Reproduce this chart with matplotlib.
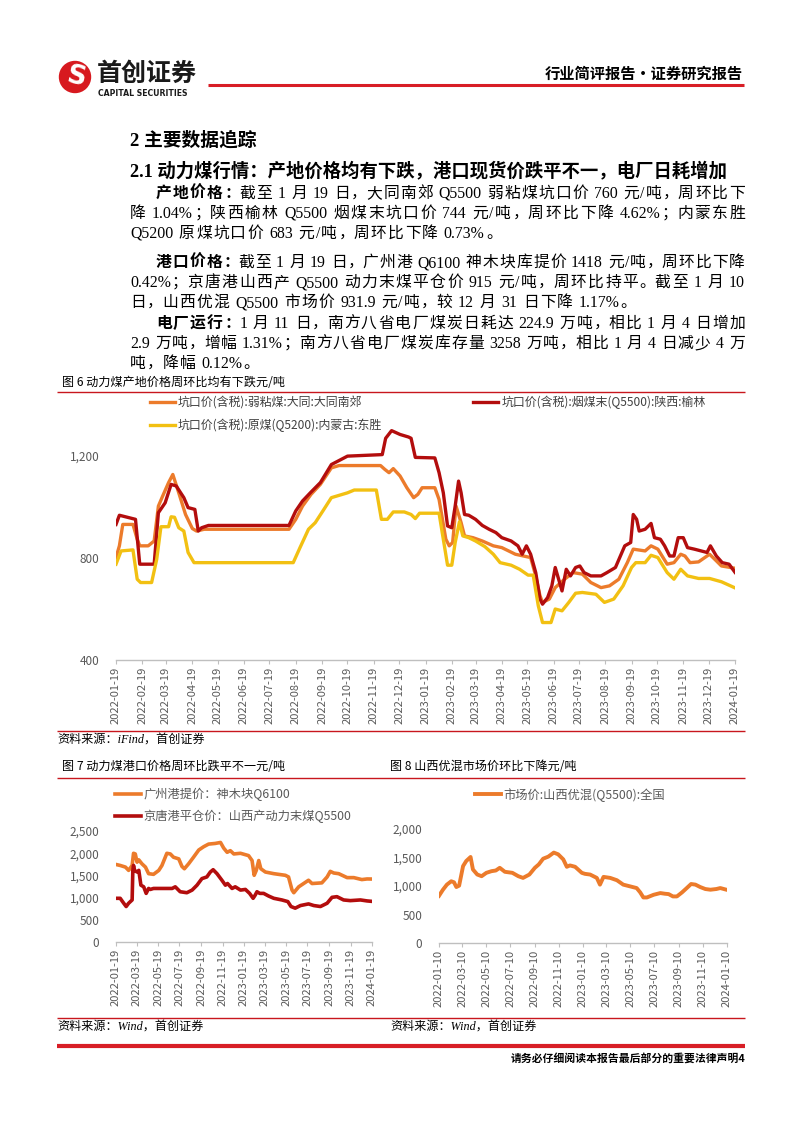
import re
import matplotlib
matplotlib.use('Agg')
import matplotlib.pyplot as plt
import matplotlib.dates as mdates
import numpy as np
import pandas as pd
from matplotlib.patches import Circle
from matplotlib.ticker import FuncFormatter

plt.rcParams['font.family'] = ['Noto Sans CJK SC', 'DejaVu Sans']
plt.rcParams['axes.unicode_minus'] = False

# ---------------- 图6 坑口价 ----------------
lab_datong = '坑口价(含税):弱粘煤:大同:大同南郊'
lab_yulin = '坑口价(含税):烟煤末(Q5500):陕西:榆林'
lab_dongsheng = '坑口价(含税):原煤(Q5200):内蒙古:东胜'

d_datong = ['2022-01-19', '2022-01-23', '2022-01-27', '2022-02-08', '2022-02-13', '2022-02-16', '2022-02-26',
            '2022-03-05', '2022-03-10', '2022-03-15', '2022-03-22', '2022-03-27', '2022-04-03', '2022-04-11',
            '2022-04-19', '2022-04-24', '2022-05-03', '2022-08-11', '2022-08-19', '2022-08-27', '2022-09-06',
            '2022-09-17', '2022-09-30', '2022-10-09', '2022-11-27', '2022-12-02', '2022-12-07', '2022-12-12',
            '2022-12-20', '2022-12-28', '2023-01-05', '2023-01-10', '2023-01-15', '2023-01-30', '2023-02-04',
            '2023-02-12', '2023-02-16', '2023-02-20', '2023-02-24', '2023-03-02', '2023-03-06', '2023-03-16',
            '2023-03-27', '2023-04-09', '2023-04-19', '2023-05-05', '2023-05-23', '2023-05-29', '2023-06-03',
            '2023-06-06', '2023-06-14', '2023-06-21', '2023-07-02', '2023-07-12', '2023-07-23', '2023-08-02',
            '2023-08-14', '2023-08-24', '2023-09-04', '2023-09-14', '2023-09-21', '2023-10-05', '2023-10-12',
            '2023-10-20', '2023-10-31', '2023-11-08', '2023-11-16', '2023-11-21', '2023-11-27', '2023-12-07',
            '2023-12-20', '2023-12-28', '2024-01-03', '2024-01-19']
v_datong = [802, 848, 932, 932, 874, 848, 848, 867, 1004, 1043, 1096, 1128, 1056, 971, 916, 906, 913, 913,
            952, 1004, 1050, 1089, 1154, 1163, 1163, 1148, 1135, 1151, 1122, 1076, 1037, 1050, 1076, 1076,
            1030, 874, 848, 861, 1004, 939, 887, 880, 867, 848, 841, 815, 802, 730, 652, 626, 639, 684, 717,
            743, 737, 704, 684, 691, 717, 782, 835, 828, 848, 835, 776, 782, 815, 808, 782, 785, 815, 789,
            769, 760]

d_yulin = ['2022-01-19', '2022-01-23', '2022-02-11', '2022-02-16', '2022-03-05', '2022-03-10', '2022-03-18',
           '2022-03-25', '2022-03-31', '2022-04-09', '2022-04-14', '2022-04-22', '2022-04-26', '2022-04-30',
           '2022-05-08', '2022-08-11', '2022-08-19', '2022-08-27', '2022-09-06', '2022-09-17', '2022-09-30',
           '2022-10-19', '2022-11-29', '2022-12-03', '2022-12-10', '2022-12-20', '2022-12-30', '2023-01-02',
           '2023-01-07', '2023-01-30', '2023-02-04', '2023-02-09', '2023-02-14', '2023-02-19', '2023-02-23',
           '2023-02-27', '2023-03-02', '2023-03-06', '2023-03-11', '2023-03-19', '2023-03-27', '2023-04-04',
           '2023-04-12', '2023-04-19', '2023-04-30', '2023-05-08', '2023-05-13', '2023-05-18', '2023-05-23',
           '2023-05-29', '2023-06-03', '2023-06-06', '2023-06-12', '2023-06-17', '2023-06-21', '2023-06-25',
           '2023-06-29', '2023-07-04', '2023-07-09', '2023-07-15', '2023-07-20', '2023-07-25', '2023-08-02',
           '2023-08-14', '2023-08-21', '2023-08-31', '2023-09-11', '2023-09-18', '2023-09-21', '2023-09-25',
           '2023-09-28', '2023-10-05', '2023-10-12', '2023-10-16', '2023-10-23', '2023-10-28', '2023-11-03',
           '2023-11-08', '2023-11-13', '2023-11-19', '2023-11-24', '2023-12-02', '2023-12-17', '2023-12-21',
           '2023-12-28', '2024-01-04', '2024-01-12', '2024-01-19']
v_yulin = [932, 968, 952, 776, 776, 978, 1017, 1089, 1083, 1037, 998, 991, 906, 919, 928, 928, 985, 1024,
           1059, 1096, 1167, 1200, 1206, 1270, 1300, 1285, 1275, 1270, 1195, 1193, 1135, 1056, 926, 919, 1004,
           1102, 1056, 971, 968, 952, 928, 913, 900, 880, 867, 848, 815, 848, 815, 743, 639, 619, 645, 691,
           763, 717, 671, 756, 730, 763, 769, 743, 730, 730, 743, 763, 848, 861, 971, 952, 906, 913, 936, 880,
           874, 848, 808, 808, 880, 880, 841, 835, 822, 848, 808, 782, 776, 744]

d_dongsheng = ['2022-01-19', '2022-01-25', '2022-02-08', '2022-02-13', '2022-02-17', '2022-03-02', '2022-03-08',
               '2022-03-13', '2022-03-22', '2022-03-25', '2022-03-29', '2022-04-03', '2022-04-09', '2022-04-14',
               '2022-04-21', '2022-08-16', '2022-08-24', '2022-09-03', '2022-09-11', '2022-09-20', '2022-09-30',
               '2022-10-09', '2022-10-19', '2022-10-27', '2022-11-22', '2022-11-28', '2022-12-05', '2022-12-12',
               '2022-12-25', '2023-01-02', '2023-01-07', '2023-01-12', '2023-02-04', '2023-02-09', '2023-02-14',
               '2023-02-19', '2023-02-23', '2023-02-28', '2023-03-04', '2023-03-11', '2023-03-19', '2023-03-30',
               '2023-04-09', '2023-04-17', '2023-04-30', '2023-05-10', '2023-05-20', '2023-05-26', '2023-06-01',
               '2023-06-06', '2023-06-16', '2023-06-21', '2023-06-29', '2023-07-07', '2023-07-15', '2023-07-23',
               '2023-08-08', '2023-08-18', '2023-08-29', '2023-09-09', '2023-09-19', '2023-09-24', '2023-10-05',
               '2023-10-12', '2023-10-20', '2023-10-31', '2023-11-08', '2023-11-16', '2023-11-24', '2023-12-07',
               '2023-12-20', '2024-01-03', '2024-01-19']
v_dongsheng = [776, 828, 832, 717, 704, 704, 795, 923, 923, 962, 960, 919, 906, 822, 782, 782, 841, 913, 939,
               985, 1037, 1046, 1056, 1067, 1067, 952, 952, 981, 981, 971, 955, 976, 976, 874, 772, 772, 861,
               942, 887, 880, 867, 845, 815, 782, 772, 756, 733, 733, 613, 547, 547, 600, 593, 626, 662, 665,
               658, 626, 639, 691, 763, 782, 782, 811, 802, 743, 717, 756, 730, 720, 720, 707, 683]

# ---------------- 图7 港口价 ----------------
lab_gz = '广州港提价：神木块Q6100'
lab_jt = '京唐港平仓价：山西产动力末煤Q5500'
d_gz = ['2022-01-19', '2022-01-31', '2022-02-15', '2022-02-24', '2022-03-06', '2022-03-10', '2022-03-15',
        '2022-03-20', '2022-03-25', '2022-04-03', '2022-04-13', '2022-04-22', '2022-05-06', '2022-05-21',
        '2022-05-30', '2022-06-13', '2022-06-23', '2022-07-02', '2022-07-17', '2022-07-26', '2022-08-02',
        '2022-08-14', '2022-08-28', '2022-09-12', '2022-09-26', '2022-10-10', '2022-10-29', '2022-11-13',
        '2022-11-22', '2022-12-02', '2022-12-11', '2022-12-21', '2023-01-09', '2023-02-01', '2023-02-11',
        '2023-02-17', '2023-02-23', '2023-03-02', '2023-03-08', '2023-03-21', '2023-04-14', '2023-05-17',
        '2023-05-26', '2023-06-05', '2023-06-10', '2023-06-24', '2023-07-08', '2023-07-22', '2023-08-01',
        '2023-08-29', '2023-09-13', '2023-09-22', '2023-10-02', '2023-10-16', '2023-11-09', '2023-11-28',
        '2023-12-21', '2024-01-05', '2024-01-19']
v_gz = [1746, 1724, 1687, 1613, 1724, 1998, 1983, 1798, 1850, 1761, 1687, 1539, 1524, 1613, 1724, 1998, 1983,
        1909, 1872, 1702, 1650, 1761, 1909, 2072, 2146, 2205, 2220, 2242, 2116, 2020, 2057, 1983, 1998, 1946,
        1835, 1502, 1613, 1835, 1650, 1576, 1539, 1502, 1465, 1169, 1110, 1243, 1317, 1391, 1317, 1332, 1465,
        1591, 1554, 1539, 1450, 1450, 1406, 1420, 1418]
d_jt = ['2022-01-19', '2022-01-31', '2022-02-10', '2022-02-17', '2022-02-24', '2022-03-06', '2022-03-08',
        '2022-03-10', '2022-03-13', '2022-03-20', '2022-03-25', '2022-03-31', '2022-04-08', '2022-04-15',
        '2022-04-22', '2022-04-27', '2022-05-06', '2022-06-28', '2022-07-07', '2022-07-21', '2022-08-09',
        '2022-08-24', '2022-09-07', '2022-09-21', '2022-10-05', '2022-10-15', '2022-10-23', '2022-11-03',
        '2022-11-17', '2022-11-27', '2022-12-03', '2022-12-16', '2022-12-25', '2023-01-09', '2023-01-23',
        '2023-02-04', '2023-02-14', '2023-02-20', '2023-02-25', '2023-03-05', '2023-03-16', '2023-03-30',
        '2023-04-14', '2023-05-07', '2023-05-24', '2023-06-02', '2023-06-14', '2023-06-29', '2023-07-22',
        '2023-08-06', '2023-08-25', '2023-09-13', '2023-09-27', '2023-10-11', '2023-10-30', '2023-11-18',
        '2023-12-17', '2024-01-05', '2024-01-19']
v_jt = [984, 984, 873, 799, 873, 947, 1613, 1725, 1613, 1576, 1613, 1280, 1243, 1095, 1206, 1184, 1206, 1206,
        1243, 1132, 1110, 1169, 1280, 1428, 1465, 1576, 1628, 1539, 1391, 1280, 1317, 1206, 1243, 1169, 1184,
        1095, 984, 1058, 1132, 1095, 1095, 1036, 984, 947, 910, 799, 762, 821, 858, 821, 799, 873, 1006, 1021,
        947, 932, 947, 925, 915]

# ---------------- 图8 山西优混 ----------------
lab_sx = '市场价:山西优混(Q5500):全国'
d_sx = ['2022-01-10', '2022-01-20', '2022-01-30', '2022-02-10', '2022-02-17', '2022-02-23', '2022-03-02',
        '2022-03-12', '2022-03-20', '2022-03-31', '2022-04-06', '2022-04-17', '2022-04-28', '2022-05-10',
        '2022-05-23', '2022-06-03', '2022-06-13', '2022-06-26', '2022-07-15', '2022-07-30', '2022-08-11',
        '2022-08-27', '2022-09-10', '2022-09-20', '2022-10-01', '2022-10-14', '2022-10-28', '2022-11-08',
        '2022-11-21', '2022-11-30', '2022-12-08', '2022-12-21', '2023-01-07', '2023-01-15', '2023-01-28',
        '2023-02-14', '2023-02-22', '2023-03-03', '2023-03-20', '2023-04-06', '2023-04-22', '2023-05-09',
        '2023-05-26', '2023-06-04', '2023-06-12', '2023-06-21', '2023-07-08', '2023-07-25', '2023-08-06',
        '2023-08-15', '2023-08-26', '2023-09-05', '2023-09-18', '2023-09-30', '2023-10-11', '2023-10-22',
        '2023-11-03', '2023-11-16', '2023-11-29', '2023-12-14', '2023-12-24', '2024-01-10']
v_sx = [828, 935, 1024, 1083, 1065, 982, 1006, 1349, 1438, 1509, 1290, 1201, 1172, 1231, 1260, 1272, 1319,
        1249, 1231, 1172, 1142, 1201, 1319, 1379, 1479, 1515, 1586, 1556, 1467, 1337, 1361, 1337, 1231, 1213,
        1201, 1142, 1024, 1160, 1142, 1101, 1024, 994, 964, 888, 799, 799, 846, 876, 864, 858, 817, 817, 888,
        964, 1035, 1024, 982, 947, 935, 947, 964, 932]

# ---------------- 正文 ----------------
heading1 = '2 主要数据追踪'
heading2 = '2.1 动力煤行情：产地价格均有下跌，港口现货价跌平不一，电厂日耗增加'
paragraphs = [
    ('产地价格：', ['截至 1 月 19 日，大同南郊 Q5500 弱粘煤坑口价 760 元/吨，周环比下',
                   '降 1.04%；陕西榆林 Q5500 烟煤末坑口价 744 元/吨，周环比下降 4.62%；内蒙东胜',
                   'Q5200 原煤坑口价 683 元/吨，周环比下降 0.73%。']),
    ('港口价格：', ['截至 1 月 19 日，广州港 Q6100 神木块库提价 1418 元/吨，周环比下降',
                   '0.42%；京唐港山西产 Q5500 动力末煤平仓价 915 元/吨，周环比持平。截至 1 月 10',
                   '日，山西优混 Q5500 市场价 931.9 元/吨，较 12 月 31 日下降 1.17%。']),
    ('电厂运行：', ['1 月 11 日，南方八省电厂煤炭日耗达 224.9 万吨，相比 1 月 4 日增加',
                   '2.9 万吨，增幅 1.31%；南方八省电厂煤炭库存量 3258 万吨，相比 1 月 4 日减少 4 万',
                   '吨，降幅 0.12%。']),
]
para_y = [193, 262, 323]

ORANGE = '#EC7B2B'
DARKRED = '#B30D0D'
YELLOW = '#F2C012'
RED = '#C8161D'
GRAY = '#595959'

W, H = 802, 1133
fig = plt.figure(figsize=(W / 100, H / 100), dpi=100)
page = fig.add_axes([0, 0, 1, 1])
page.set_xlim(0, W)
page.set_ylim(H, 0)
page.axis('off')
renderer = fig.canvas.get_renderer()

BODY = ['Liberation Serif', 'Noto Sans CJK SC']
BODY_SIZE = 11.4
EM = BODY_SIZE * 100 / 72
PUNCT = '，：；。、'


def body_line(y, parts, x0, x1=None):
    units = []
    for s, w in parts:
        for tok in re.findall(r'[A-Za-z0-9.%]+| |.', s):
            units.append((tok, w))
    items = []
    for tok, w in units:
        if tok == ' ':
            items.append((None, EM * 0.2))
            continue
        t = page.text(0, y, tok, fontsize=BODY_SIZE, family=BODY, fontweight=w,
                      ha='left', va='baseline', color='black')
        wd = t.get_window_extent(renderer).width
        if tok in PUNCT:
            wd = EM * 0.88
        items.append((t, wd))
    total = sum(wd for _, wd in items)
    if x1 is None:
        gap = EM * 0.08
    else:
        gap = (x1 - x0 - total) / (len(items) - 1)
    x = x0
    for t, wd in items:
        if t is not None:
            t.set_x(x)
        x += wd + gap


def hline(y, x0, x1, lw, color=RED):
    page.plot([x0, x1], [y, y], color=color, lw=lw, solid_capstyle='butt')


# ---- 页眉 ----
page.add_patch(Circle((75, 77), 15.5, color='#D7191F'))
page.text(75.5, 77.5, 'S', fontsize=19, fontweight='bold', family='DejaVu Sans', color='white',
          ha='center', va='center', rotation=-12)
page.text(97, 74, '首创证券', fontsize=18, fontweight='bold', color='#1a1a1a', ha='left', va='center')
page.text(98, 93, 'CAPITAL SECURITIES', fontsize=5.6, fontweight='bold', family='DejaVu Sans',
          color='#1a1a1a', ha='left', va='center')
hline(85, 208, 744, 2.2, '#D81E26')
page.text(743, 74, '行业简评报告·证券研究报告', fontsize=11, fontweight='bold', color='black',
          ha='right', va='center')

# ---- 标题与正文 ----
page.text(130, 140, heading1, fontsize=13.5, fontweight='bold', family=BODY, ha='left', va='center')
page.text(130, 171, heading2, fontsize=13.2, fontweight='bold', family=BODY, ha='left', va='center')
for (lead, lines), y0 in zip(paragraphs, para_y):
    for i, ln in enumerate(lines):
        yb = y0 + i * 20 + 5
        if i == 0:
            body_line(yb, [(lead, 'bold'), (ln, 'normal')], 156, 745)
        elif i < len(lines) - 1:
            body_line(yb, [(ln, 'normal')], 130, 745)
        else:
            body_line(yb, [(ln, 'normal')], 130)

# ---- 图框 ----
page.text(62, 383, '图 6 动力煤产地价格周环比均有下跌元/吨', fontsize=8.7, color='black', ha='left', va='center')
hline(392, 57, 745, 1.0)
hline(731, 57, 745, 1.0)
SRC = ['Liberation Serif', 'Noto Sans CJK SC']
page.text(57, 740, '资料来源：iFind，首创证券', fontsize=8.7, family=SRC, style='italic', ha='left', va='center')
page.text(62, 766, '图 7 动力煤港口价格周环比跌平不一元/吨', fontsize=8.7, color='black', ha='left', va='center')
page.text(390, 766, '图 8 山西优混市场价环比下降元/吨', fontsize=8.7, color='black', ha='left', va='center')
hline(778, 57, 745, 1.0)
hline(1018, 57, 745, 1.0)
page.text(57, 1027, '资料来源：Wind，首创证券', fontsize=8.7, family=SRC, style='italic', ha='left', va='center')
page.text(390, 1027, '资料来源：Wind，首创证券', fontsize=8.7, family=SRC, style='italic', ha='left', va='center')
hline(1046, 57, 745, 3.0, '#D81E26')
page.text(745, 1058, '请务必仔细阅读本报告最后部分的重要法律声明4', fontsize=7.8, fontweight='bold',
          ha='right', va='center')


def style(ax, ticks, fmt):
    for s in ['top', 'right', 'left']:
        ax.spines[s].set_visible(False)
    ax.spines['bottom'].set_color('#BFBFBF')
    ax.spines['bottom'].set_linewidth(1.0)
    ax.set_facecolor('none')
    ax.set_xticks(ticks)
    ax.xaxis.set_major_formatter(mdates.DateFormatter(fmt))
    ax.tick_params(axis='x', length=3, width=0.8, color='#BFBFBF', labelsize=8, labelcolor=GRAY,
                   labelrotation=90, pad=2)
    ax.tick_params(axis='y', length=0, labelsize=8.5, labelcolor=GRAY, pad=12)
    ax.yaxis.set_major_formatter(FuncFormatter(lambda v, p: f'{v:,.0f}'))


# ---- 图6 ----
ax1 = fig.add_axes([116 / W, 1 - 660 / H, 619 / W, 237 / H])
l1, = ax1.plot(pd.to_datetime(d_datong), v_datong, color=ORANGE, lw=2.4)
l2, = ax1.plot(pd.to_datetime(d_yulin), v_yulin, color=DARKRED, lw=2.4)
l3, = ax1.plot(pd.to_datetime(d_dongsheng), v_dongsheng, color=YELLOW, lw=2.4)
ax1.set_xlim(pd.Timestamp('2022-01-19'), pd.Timestamp('2024-01-19'))
ax1.set_ylim(400, 1330)
ax1.set_yticks([400, 800, 1200])
style(ax1, pd.date_range('2022-01-19', '2024-01-19', freq=pd.DateOffset(months=1)), '%Y-%m-%d')
fig.legend([l1, l3, l2], [lab_datong, lab_dongsheng, lab_yulin], ncol=2, loc='upper left',
           bbox_to_anchor=(150 / W, 1 - 396 / H), frameon=False, fontsize=8.6, labelcolor='#404040',
           handlelength=2.1, handletextpad=0.25, columnspacing=7.6, labelspacing=0.75,
           borderpad=0, borderaxespad=0)

# ---- 图7 ----
ax7 = fig.add_axes([116 / W, 1 - 942 / H, 256 / W, 111 / H])
m1, = ax7.plot(pd.to_datetime(d_gz), v_gz, color=ORANGE, lw=2.6)
m2, = ax7.plot(pd.to_datetime(d_jt), v_jt, color=DARKRED, lw=2.6)
ax7.set_xlim(pd.Timestamp('2022-01-19'), pd.Timestamp('2024-01-19'))
ax7.set_ylim(0, 2500)
ax7.set_yticks(np.arange(0, 2501, 500))
style(ax7, pd.date_range('2022-01-19', '2024-01-19', freq=pd.DateOffset(months=2)), '%Y-%m-%d')
fig.legend([m1, m2], [lab_gz, lab_jt], ncol=1, loc='upper left', bbox_to_anchor=(115 / W, 1 - 788 / H),
           frameon=False, fontsize=8.8, labelcolor=GRAY, handlelength=2.1, handletextpad=0.2,
           labelspacing=0.7, borderpad=0, borderaxespad=0)

# ---- 图8 ----
ax8 = fig.add_axes([439 / W, 1 - 943 / H, 288 / W, 114 / H])
n1, = ax8.plot(pd.to_datetime(d_sx), v_sx, color=ORANGE, lw=2.8)
ax8.set_xlim(pd.Timestamp('2022-01-10'), pd.Timestamp('2024-01-10'))
ax8.set_ylim(0, 2000)
ax8.set_yticks(np.arange(0, 2001, 500))
style(ax8, pd.date_range('2022-01-10', '2024-01-10', freq=pd.DateOffset(months=2)), '%Y-%m-%d')
fig.legend([n1], [lab_sx], loc='upper left', bbox_to_anchor=(475 / W, 1 - 788 / H),
           frameon=False, fontsize=8.8, labelcolor=GRAY, handlelength=2.1, handletextpad=0.2,
           borderpad=0, borderaxespad=0)

fig.savefig('out.png', dpi=100)
